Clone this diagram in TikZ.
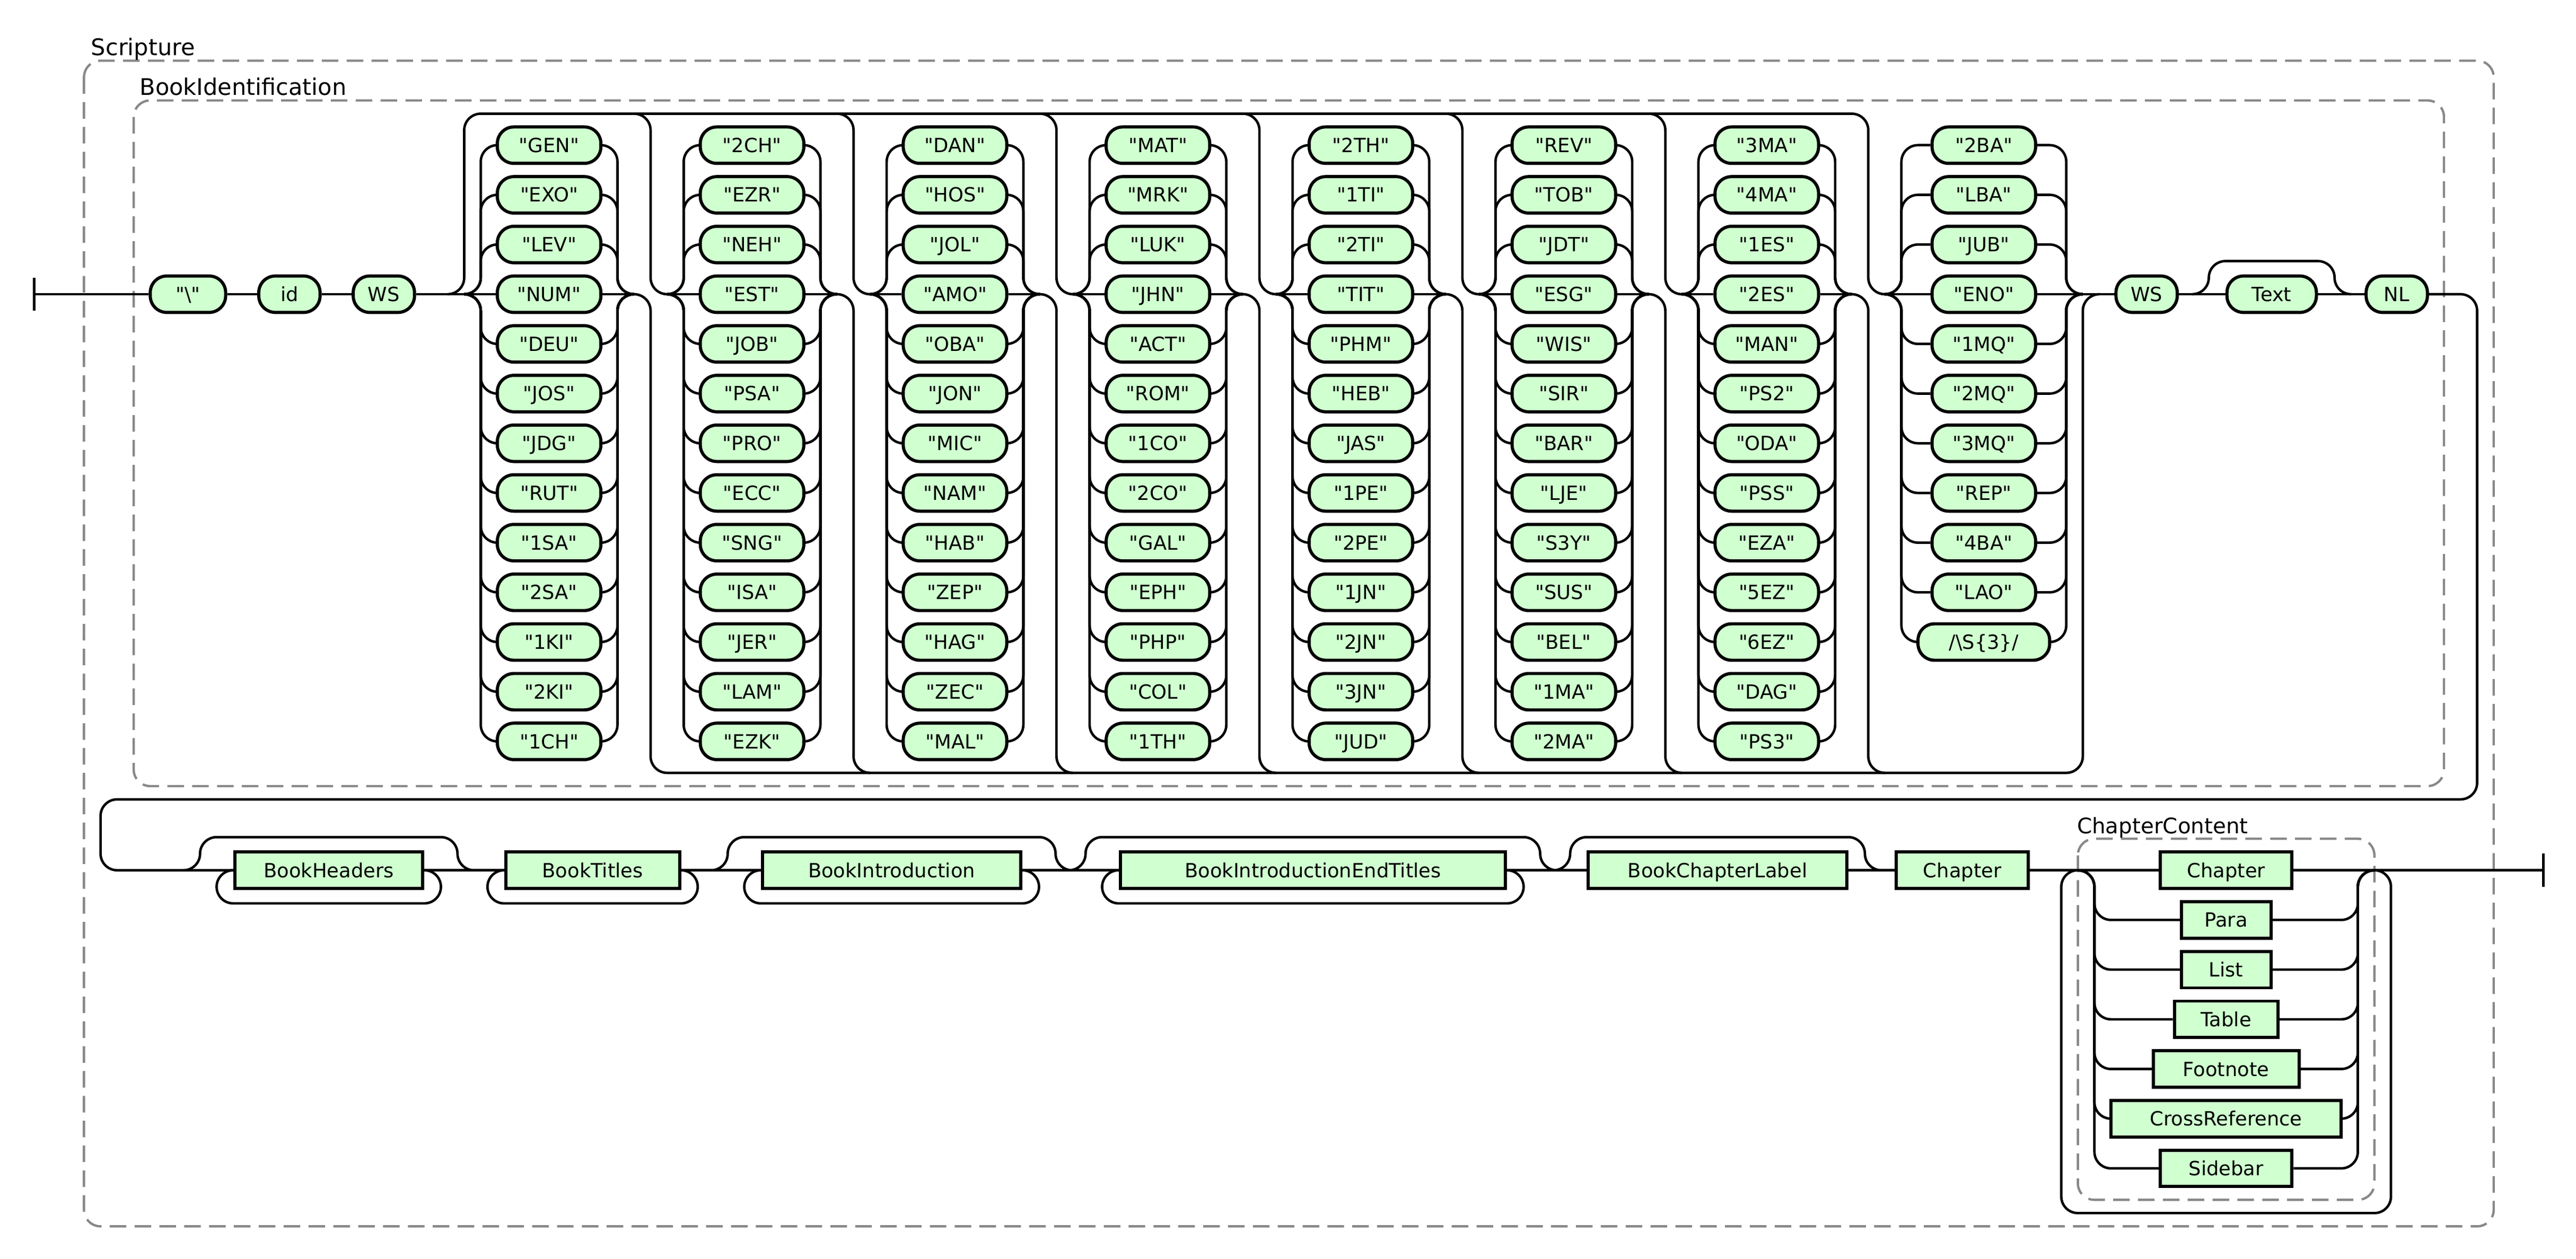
\documentclass[tikz,border=0pt]{standalone}
\usepackage{fontspec}
\setmainfont{DejaVu Sans}
\usetikzlibrary{positioning, calc}

\definecolor{termgreen}{RGB}{208,255,208}
\definecolor{groupgrey}{RGB}{136,136,136}
\newcommand{\quoted}[1]{\textquotedbl#1\textquotedbl}

\begin{document}
\begin{tikzpicture}[
    x=0.03cm, y=-0.03cm,
    rail/.style={line width=0.045cm, rounded corners=0.3cm},
    bar/.style={line width=0.045cm},
    term/.style={draw, fill=termgreen, line width=0.057cm, rounded corners=0.3cm, minimum width=#1*0.03cm, minimum height=0.66cm, inner sep=0pt, text height=7.34pt, text depth=0pt, font=\fontsize{10.07}{12}\selectfont},
    nonterm/.style={term=#1, sharp corners},
    group/.style={draw=groupgrey, line width=0.042cm, dash pattern=on 0.3cm off 0.15cm, rounded corners=0.3cm},
    grouplabel/.style={anchor=base west, inner sep=0pt, font=\fontsize{11.78}{14}\selectfont}
]
    \useasboundingbox (-0.7,-0.64) rectangle (1554.2,759.5);

    % Groups
    \draw[group] (50,36) rectangle (1504.5,739.8);
    \node[grouplabel] (scripture) at (54.1,32.7) {Scripture};
    \draw[group] (80,60) rectangle (1474.5,474);
    \node[grouplabel] (bookid) at (83.4,56.8) {BookIdentification};
    \draw[group] (1253.5,505.8) rectangle (1432.5,723.8);
    \node[grouplabel, font=\fontsize{11.05}{13}\selectfont] (chapcontent) at (1252.8,502.7) {ChapterContent};

    % Book identification line
    \coordinate (start) at (20,177);
    \draw[bar] ($(start)+(0,-10)$) -- ($(start)+(0,10)$);
    \node[term=45.5] (bslash) at (112.75,177) {\quoted{\textbackslash}};
    \node[term=37] (id) at (174,177) {id};
    \node[term=37] (ws) at (231,177) {WS};
    \coordinate (hcin) at (269.5,177);
    \draw[rail] (start) -- (bslash.west);
    \draw[rail] (bslash.east) -- (id.west);
    \draw[rail] (id.east) -- (ws.west);
    \draw[rail] (ws.east) -- (hcin);

    % Book codes, one column per choice
    \foreach \books [count=\k from 0] in {
        {GEN,EXO,LEV,NUM,DEU,JOS,JDG,RUT,1SA,2SA,1KI,2KI,1CH},
        {2CH,EZR,NEH,EST,JOB,PSA,PRO,ECC,SNG,ISA,JER,LAM,EZK},
        {DAN,HOS,JOL,AMO,OBA,JON,MIC,NAM,HAB,ZEP,HAG,ZEC,MAL},
        {MAT,MRK,LUK,JHN,ACT,ROM,1CO,2CO,GAL,EPH,PHP,COL,1TH},
        {2TH,1TI,2TI,TIT,PHM,HEB,JAS,1PE,2PE,1JN,2JN,3JN,JUD},
        {REV,TOB,JDT,ESG,WIS,SIR,BAR,LJE,S3Y,SUS,BEL,1MA,2MA},
        {3MA,4MA,1ES,2ES,MAN,PS2,ODA,PSS,EZA,5EZ,6EZ,DAG,PS3},
        {2BA,LBA,JUB,ENO,1MQ,2MQ,3MQ,REP,4BA,LAO}} {
        \pgfmathsetmacro\colx{279.5+122.5*\k}
        \pgfmathsetmacro\colw{\k==7 ? 119.5 : 102.5}
        \coordinate (c\k-in) at (\colx,177);
        \coordinate (c\k-out) at (\colx+\colw,177);
        \foreach \book [count=\row from 0] in \books {
            \node[term=62.5] (c\k-\row) at (\colx+\colw/2,87+30*\row) {\quoted{\book}};
            \ifnum\row=3\relax
                \draw[rail] (c\k-in) -- (c\k-\row.west);
                \draw[rail] (c\k-\row.east) -- (c\k-out);
            \else
                \draw[rail] (c\k-in) -- ++(10,0) |- (c\k-\row.west);
                \draw[rail] (c\k-\row.east) -| ($(c\k-out)+(-10,0)$) -- (c\k-out);
            \fi
        }
    }
    \node[term=79.5] (regex) at (1196.75,387) {/\textbackslash S\{3\}/};
    \draw[rail] (c7-in) -- ++(10,0) |- (regex.west);
    \draw[rail] (regex.east) -| ($(c7-out)+(-10,0)$) -- (c7-out);

    % Tracks above and below the columns
    \coordinate (hcout) at (1266.5,177);
    \draw[rail] (hcin) -- (c0-in);
    \draw[rail] (hcin) -- (c0-in) -- ++(0,-109) -| ($(c7-in)+(-10,0)$) -- (c7-in);
    \foreach \k in {1,...,6} {
        \draw[rail] ($(c\k-in)+(-20,-109)$) -- ++(10,0) -- ++(0,109) -- (c\k-in);
        \draw[rail] (c\k-out) -- ++(10,0) -- ++(0,289) -- ++(10,0);
    }
    \draw[rail] (c0-out) -- ++(10,0) -- ++(0,289) -| (c7-out) -- (hcout);

    % Rest of the first line
    \node[term=37] (ws2) at (1295,177) {WS};
    \node[term=54] (text) at (1370.5,177) {Text};
    \node[term=37] (nl) at (1446,177) {NL};
    \draw[rail] (c7-out) -- (hcout) -- (ws2.west);
    \draw[rail] (ws2.east) -- (text.west);
    \draw[rail] (text.east) -- (nl.west);
    \draw[rail] ($(text.west)+(-20,0)$) -- ++(10,0) -- ++(0,-20) -| ($(text.east)+(10,0)$) -- ++(10,0);

    % Second line
    \node[nonterm=113.5] (bh) at (197.75,524.8) {BookHeaders};
    \node[nonterm=105] (bt) at (357,524.8) {BookTitles};
    \node[nonterm=156] (bi) at (537.5,524.8) {BookIntroduction};
    \node[nonterm=232.5] (biet) at (791.75,524.8) {BookIntroductionEndTitles};
    \node[nonterm=156] (bcl) at (1036,524.8) {BookChapterLabel};
    \node[nonterm=79.5] (ch) at (1183.75,524.8) {Chapter};

    \coordinate (turn) at (1494.5,177);
    \coordinate (back) at (60,482);
    \draw[rail] (nl.east) -- (turn) |- (back) |- (bh.west);
    \draw[rail] (bh.east) -- (bt.west);
    \draw[rail] (bt.east) -- (bi.west);
    \draw[rail] (bi.east) -- (biet.west);
    \draw[rail] (biet.east) -- (bcl.west);
    \draw[rail] (bcl.east) -- (ch.west);

    % Skips and repeats
    \foreach \n in {bh,bi,biet} {
        \draw[rail] ($(\n.west)+(-30,0)$) -- ++(10,0) -- ++(0,-20) -| ($(\n.east)+(20,0)$) -- ++(10,0);
    }
    \draw[rail] ($(bcl.west)+(-20,0)$) -- ++(10,0) -- ++(0,-20) -| ($(bcl.east)+(10,0)$) -- ++(10,0);
    \foreach \n in {bh,bt,bi,biet} {
        \draw[rail] (\n.west) -- ++(-10,0) -- ++(0,20) -| ($(\n.east)+(10,0)$) -- (\n.east);
    }

    % Chapter content
    \coordinate (ccin) at (1253.5,524.8);
    \coordinate (ccout) at (1432.5,524.8);
    \foreach \piece/\w [count=\row from 0] in {Chapter/79.5, Para/54, List/54, Table/62.5, Footnote/88, CrossReference/139, Sidebar/79.5} {
        \node[nonterm=\w] (cc-\row) at (1343,524.8+30*\row) {\piece};
        \ifnum\row>0\relax
            \draw[rail] (ccin) -- ++(10,0) |- (cc-\row.west);
            \draw[rail] (cc-\row.east) -| ($(ccout)+(-10,0)$) -- (ccout);
        \fi
    }
    \coordinate (end) at (1534.5,524.8);
    \draw[rail] (ch.east) -- (cc-0.west);
    \draw[rail] (cc-0.east) -- (end);
    \draw[rail] (ccin) -- ++(-10,0) -- ++(0,207) -| ($(ccout)+(10,0)$) -- (ccout);
    \draw[bar] ($(end)+(0,-10)$) -- ($(end)+(0,10)$);
\end{tikzpicture}
\end{document}
